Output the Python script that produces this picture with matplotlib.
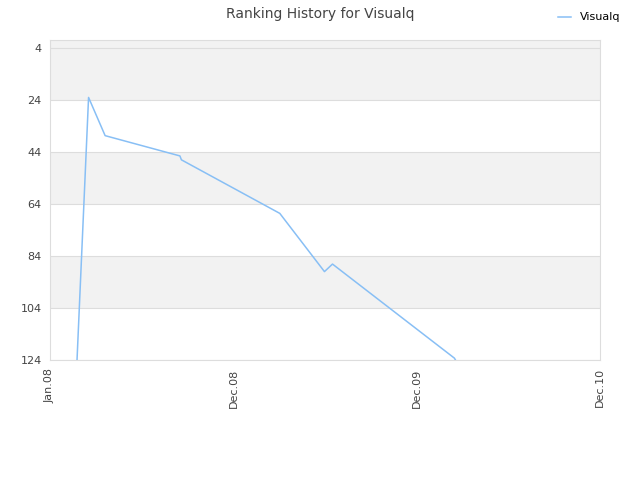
import matplotlib
matplotlib.use("Agg")
import matplotlib.pyplot as plt
import pandas as pd

# ---------------------------------------------------------------------------
# Donnees
# ---------------------------------------------------------------------------
dates = ["2008-02-24", "2008-03-18", "2008-04-20", "2008-09-16", "2008-09-19",
         "2009-04-03", "2009-07-01", "2009-07-17", "2010-03-17", "2010-03-19"]
ranks = [124, 23, 37.7, 45.5, 47, 67.6, 90, 87.1, 123.3, 124]

tick_dates = ["2008-01-01", "2009-01-01", "2010-01-01", "2011-01-01"]
tick_labels = ["Jan.08", "Dec.08", "Dec.09", "Dec.10"]
y_ticks = [4, 24, 44, 64, 84, 104, 124]

x = pd.to_datetime(dates)
xt = pd.to_datetime(tick_dates)

fig = plt.figure(figsize=(6.4, 4.8), dpi=100)
ax = fig.add_axes([0.078, 0.25, 0.8595, 0.6667])

# bandes alternees
y_top = 0.9
bounds = [y_top] + y_ticks[1:]
for i in range(len(bounds) - 1):
    if i % 2 == 0:
        ax.axhspan(bounds[i], bounds[i + 1], color="#f2f2f2", zorder=0, lw=0)
for t in y_ticks:
    ax.axhline(t, color="#dddddd", lw=0.8, zorder=1)

ax.plot(x, ranks, color="#88bff5", lw=1.1, label="Visualq", zorder=3)

ax.set_ylim(124, y_top)
ax.set_xlim(xt[0], xt[-1])
ax.set_yticks(y_ticks)
ax.set_xticks(xt)
ax.set_xticklabels(tick_labels, rotation=90)
ax.tick_params(axis="both", length=0, labelsize=8, colors="#444444", pad=6)

for s in ax.spines.values():
    s.set_color("#dddddd")
    s.set_linewidth(0.8)

fig.suptitle("Ranking History for Visualq", x=0.5, y=0.985, fontsize=10, color="#444444")
fig.legend(loc="upper right", bbox_to_anchor=(0.985, 0.995), frameon=False,
           fontsize=8, handlelength=1.2)

fig.savefig("out.png", dpi=100)
